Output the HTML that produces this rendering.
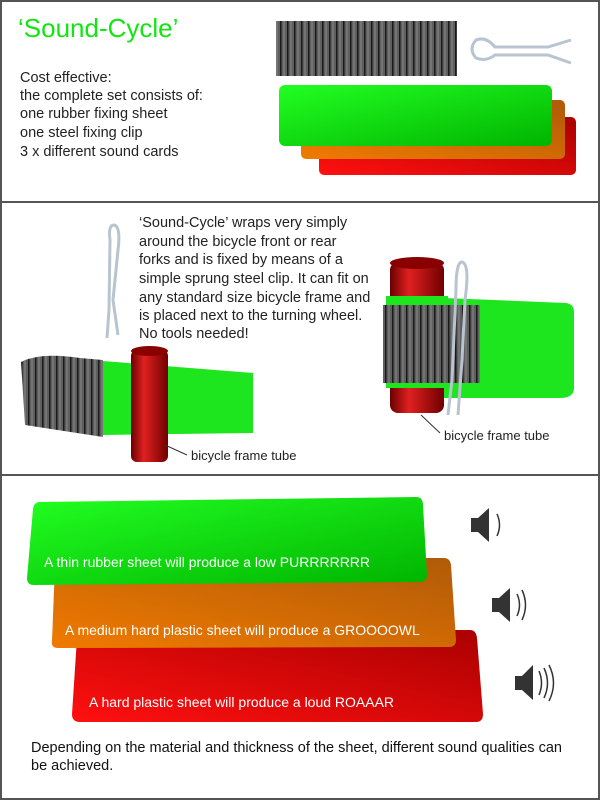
<!DOCTYPE html>
<html><head><meta charset="utf-8"><style>
html,body{margin:0;padding:0;background:#fff}
svg{display:block}
text{font-family:"Liberation Sans",sans-serif}
</style></head><body>
<svg width="600" height="800" viewBox="0 0 600 800" xmlns="http://www.w3.org/2000/svg">
<defs>
<linearGradient id="g" x1="0" y1="0" x2="1" y2="1"><stop offset="0" stop-color="#22ff22"/><stop offset="1" stop-color="#00b400"/></linearGradient>
<linearGradient id="o" x1="0" y1="1" x2="1" y2="0"><stop offset="0" stop-color="#f07a00"/><stop offset="1" stop-color="#b05a08"/></linearGradient>
<linearGradient id="r" x1="0" y1="1" x2="1" y2="0"><stop offset="0" stop-color="#ff1010"/><stop offset="1" stop-color="#aa0000"/></linearGradient>
<linearGradient id="tube" x1="0" y1="0" x2="1" y2="0"><stop offset="0" stop-color="#6a0000"/><stop offset="0.35" stop-color="#e02020"/><stop offset="1" stop-color="#700000"/></linearGradient>
<pattern id="rib" width="7" height="10" patternUnits="userSpaceOnUse"><rect width="7" height="10" fill="#5e5e5e"/><rect x="0" width="1.5" height="10" fill="#1a1a1a"/><rect x="3" width="2" height="10" fill="#747474"/></pattern>
</defs>
<rect x="1" y="1" width="598" height="798" fill="#fff" stroke="#555" stroke-width="2"/>
<line x1="0" y1="202" x2="600" y2="202" stroke="#555" stroke-width="2"/>
<line x1="0" y1="475" x2="600" y2="475" stroke="#555" stroke-width="2"/>

<!-- top -->
<text x="18" y="37" font-size="26" fill="#11e611">‘Sound-Cycle’</text>
<g font-size="14.5" fill="#222">
<text x="20" y="82">Cost effective:</text>
<text x="20" y="100">the complete set consists of:</text>
<text x="20" y="118">one rubber fixing sheet</text>
<text x="20" y="137">one steel fixing clip</text>
<text x="20" y="156">3 x different sound cards</text>
</g>
<rect x="276" y="21" width="181" height="55" fill="url(#rib)"/>
<path d="M571,40 L548,47 L495,47 Q486,36 476,40 Q468,49 476,58 Q486,62 495,55 L548,55 L571,63" fill="none" stroke="#b8c4d0" stroke-width="3"/>
<rect x="319" y="117" width="257" height="58" rx="5" fill="url(#r)"/>
<rect x="301" y="100" width="264" height="59" rx="5" fill="url(#o)"/>
<rect x="279" y="85" width="273" height="61" rx="6" fill="url(#g)"/>

<!-- middle -->
<g font-size="14.5" fill="#222">
<text x="139" y="227">‘Sound-Cycle’ wraps very simply</text>
<text x="139" y="246">around the bicycle front or rear</text>
<text x="139" y="264">forks and is fixed by means of a</text>
<text x="139" y="283">simple sprung steel clip. It can fit on</text>
<text x="139" y="302">any standard size bicycle frame and</text>
<text x="139" y="320">is placed next to the turning wheel.</text>
<text x="139" y="338">No tools needed!</text>
</g>
<path d="M107,338 L109,310 L110,240 Q108,225 114,225 Q121,226 118,250 L113,300 L118,335" fill="none" stroke="#b8c4d0" stroke-width="3"/>
<!-- left assembly -->
<path d="M69,365 Q75,358 90,360 L253,373 L253,433 L103,435 Z" fill="#1ee61e"/>
<path d="M21,362 Q40,352 80,358 L103,360 L103,437 L25,425 Z" fill="url(#rib)"/>
<rect x="131" y="350" width="37" height="112" rx="6" fill="url(#tube)"/>
<ellipse cx="149.5" cy="351" rx="18.5" ry="5" fill="#8a0000"/>
<line x1="165" y1="445" x2="187" y2="455" stroke="#333"/>
<text x="191" y="460" font-size="13" fill="#222">bicycle frame tube</text>
<!-- right assembly -->
<path d="M444,298 L566,303 Q574,304 574,312 L574,388 Q574,398 560,398 L444,398 Z" fill="#1ee61e"/>
<rect x="390" y="262" width="54" height="151" rx="8" fill="url(#tube)"/>
<ellipse cx="417" cy="263" rx="27" ry="6" fill="#8a0000"/>
<rect x="386" y="296" width="62" height="92" fill="#1ee61e"/>
<rect x="383" y="305" width="97" height="78" fill="url(#rib)"/>
<path d="M448,415 L452,380 L456,290 Q456,262 462,262 Q470,264 465,300 L462,360 L458,415" fill="none" stroke="#b8c4d0" stroke-width="3"/>
<line x1="421" y1="415" x2="440" y2="433" stroke="#333"/>
<text x="444" y="440" font-size="13" fill="#222">bicycle frame tube</text>

<!-- bottom -->
<path d="M80,630 L470,630 Q476,630 477,638 L483,714 Q483,722 476,722 L80,722 Q72,722 72,714 L77,638 Q77,630 85,630 Z" fill="url(#r)"/>
<text x="89" y="707" font-size="14" fill="#fff">A hard plastic sheet will produce a loud ROAAAR</text>
<path d="M62,558 L444,558 Q450,558 451,565 L456,640 Q456,647 449,647 L58,648 Q51,648 52,641 L55,565 Q56,558 62,558 Z" fill="url(#o)"/>
<text x="65" y="635" font-size="14" fill="#fff">A medium hard plastic sheet will produce a GROOOOWL</text>
<path d="M40,502 L416,497 Q423,497 423,505 L427,575 Q427,582 420,582 L34,585 Q27,585 27,578 L33,509 Q34,502 40,502 Z" fill="url(#g)"/>
<text x="44" y="567" font-size="14" fill="#fff">A thin rubber sheet will produce a low PURRRRRRR</text>
<g fill="#333" stroke="#333">
<path d="M471,518 L478,518 L489,508 L489,542 L478,532 L471,532 Z" stroke="none"/>
<path d="M497,514 Q502,525 497,536" fill="none" stroke-width="1.5"/>
<path d="M492,598 L499,598 L510,588 L510,622 L499,612 L492,612 Z" stroke="none"/>
<path d="M517,594 Q522,605 517,616" fill="none" stroke-width="1.5"/>
<path d="M522,590 Q529,605 522,620" fill="none" stroke-width="1.5"/>
<path d="M515,676 L522,676 L533,665 L533,700 L522,690 L515,690 Z" stroke="none"/>
<path d="M539,671 Q544,683 539,695" fill="none" stroke-width="1.5"/>
<path d="M544,668 Q551,683 544,698" fill="none" stroke-width="1.5"/>
<path d="M549,665 Q558,683 549,701" fill="none" stroke-width="1.5"/>
</g>
<g font-size="14.5" fill="#111">
<text x="31" y="752">Depending on the material and thickness of the sheet, different sound qualities can</text>
<text x="31" y="770">be achieved.</text>
</g>
</svg>
</body></html>
